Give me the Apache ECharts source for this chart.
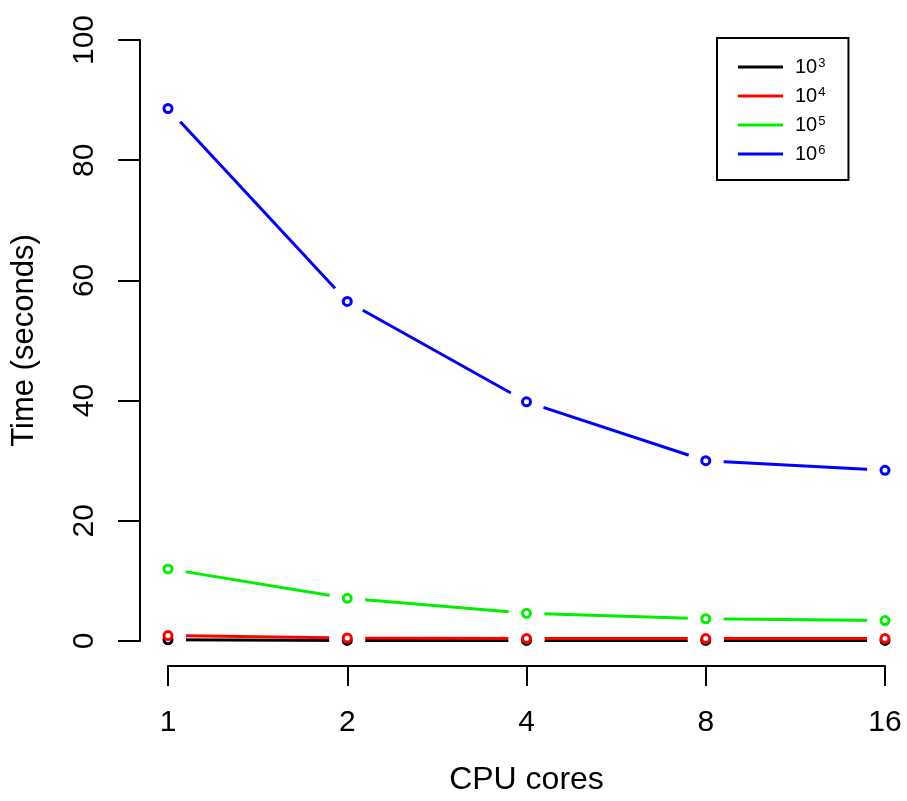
<!DOCTYPE html>
<html>
<head>
<meta charset="utf-8">
<script src="https://cdn.jsdelivr.net/npm/echarts@6/dist/echarts.min.js"></script>
<style>
  html, body { margin: 0; padding: 0; background: #fff; }
  #chart { width: 907px; height: 801px; }
</style>
</head>
<body>
<div id="chart"></div>
<script>
// cores (log2 spaced, so plain categories)
const cores = ['1', '2', '4', '8', '16']
const sizes = ['3', '4', '5', '6']          // exponents for the legend: 10^n
const colors = ['#000000', '#ff0000', '#00ee00', '#0000ff']

// time in seconds
const t1e3 = [0.2, 0.1, 0.1, 0.1, 0.1]
const t1e4 = [0.9, 0.5, 0.4, 0.4, 0.4]
const t1e5 = [12.0, 7.1, 4.6, 3.7, 3.4]
const t1e6 = [88.6, 56.5, 39.8, 30.0, 28.4]
const times = [t1e3, t1e4, t1e5, t1e6]

const names = sizes.map(s => '10^' + s)

const series = []
// lines first
times.forEach((d, i) => {
  series.push({
    name: names[i],
    type: 'line',
    data: d,
    showSymbol: false,
    z: 2,
    lineStyle: { color: colors[i], width: 3 },
    itemStyle: { color: colors[i] }
  })
})
// white disks make the little gaps round the points (R type="b")
times.forEach((d, i) => {
  series.push({
    type: 'scatter',
    data: d,
    symbol: 'circle',
    symbolSize: 36,
    silent: true,
    z: 3,
    itemStyle: { color: '#fff', opacity: 1 }
  })
})
// open circles
times.forEach((d, i) => {
  series.push({
    type: 'scatter',
    data: d,
    symbol: 'circle',
    symbolSize: 8,
    silent: true,
    z: 4,
    itemStyle: { color: '#fff', borderColor: colors[i], borderWidth: 3, opacity: 1 }
  })
})

const chart = echarts.init(document.getElementById('chart'))
chart.setOption({
  animation: false,
  textStyle: { fontFamily: 'Liberation Sans, Arial, sans-serif', color: '#000' },
  grid: { left: 168, right: 22, top: 40, bottom: 158 },
  legend: {
    data: names,
    left: 717,
    top: 38,
    orient: 'vertical',
    icon: 'rect',
    itemWidth: 45,
    itemHeight: 3,
    itemGap: 8,
    padding: [19, 23, 15, 21],
    borderColor: '#000',
    borderWidth: 2,
    formatter: function (n) {
      return '10{s|' + n.split('^')[1] + '}'
    },
    textStyle: {
      fontSize: 20,
      lineHeight: 20,
      color: '#000',
      padding: [0, 0, 0, 7],
      rich: {
        s: { fontSize: 13, lineHeight: 20, verticalAlign: 'top', padding: [0, 0, 8, 1] }
      }
    }
  },
  xAxis: {
    type: 'category',
    data: cores,
    boundaryGap: false,
    offset: 25,
    name: 'CPU cores',
    nameLocation: 'middle',
    nameGap: 98,
    nameTextStyle: { fontSize: 32, color: '#000' },
    axisLine: { onZero: false, lineStyle: { color: '#000', width: 2 } },
    axisTick: { length: 20, lineStyle: { color: '#000', width: 2 } },
    axisLabel: { fontSize: 30, color: '#000', margin: 42 },
    splitLine: { show: false }
  },
  yAxis: {
    type: 'value',
    min: 0,
    max: 100,
    interval: 20,
    offset: 28,
    name: 'Time (seconds)',
    nameLocation: 'middle',
    nameGap: 100,
    nameTextStyle: { fontSize: 31, color: '#000' },
    axisLine: { show: true, lineStyle: { color: '#000', width: 2 } },
    axisTick: { show: true, length: 22, lineStyle: { color: '#000', width: 2 } },
    axisLabel: { fontSize: 30, color: '#000', rotate: 90, margin: 40 },
    splitLine: { show: false }
  },
  series: series
})
</script>
</body>
</html>
